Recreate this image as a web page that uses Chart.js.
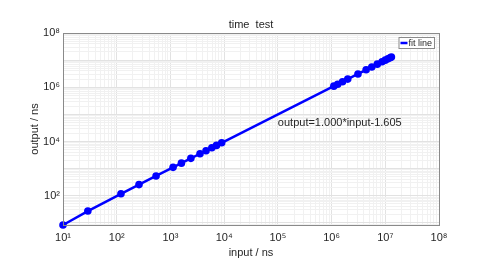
<!DOCTYPE html>
<html>
<head>
<meta charset="utf-8">
<script src="https://cdn.jsdelivr.net/npm/chart.js@4.4.1/dist/chart.umd.min.js"></script>
<style>
  html, body { margin: 0; padding: 0; background: #fff; }
  #wrap { width: 485px; height: 273px; }
</style>
</head>
<body>
<div id="wrap"><canvas id="chart"></canvas></div>
<script>
// measured input sizes (ns)
const inputNs = [10, 29, 120, 260, 540, 1120, 1600, 2400, 3550, 4600, 5900, 7200, 9000,
    1.1e6, 1.3e6, 1.6e6, 2.0e6, 3.1e6, 4.4e6, 5.6e6, 7.1e6, 8.7e6, 1.0e7, 1.12e7, 1.23e7, 1.3e7];
const slope = 1.000;
const offset = -1.605;
const outputNs = inputNs.map(v => slope * v + offset);
const xTickExps = [1, 2, 3, 4, 5, 6, 7, 8];
const yTickExps = [2, 4, 6, 8];
const sup = {"1": "\u00b9", "2": "\u00b2", "3": "\u00b3", "4": "\u2074", "5": "\u2075", "6": "\u2076", "7": "\u2077", "8": "\u2078"};
const FONT = "'Liberation Sans', Arial, sans-serif";

function logTicks(min, max) {
    const ticks = [];
    for (let e = 0; e <= 8; e++) {
        for (let m = 1; m <= 9; m++) {
            const v = m * Math.pow(10, e);
            if (v >= min - 1e-9 && v <= max * 1.0000001) ticks.push({value: v});
        }
    }
    return ticks;
}
function isPow(v) {
    const e = Math.log10(v);
    return Math.abs(e - Math.round(e)) < 1e-9;
}
function gridColor(ctx) {
    return ctx.tick && isPow(ctx.tick.value) ? "#e2e2e2" : "#f1f1f1";
}

const boxPlugin = {
    id: "box",
    afterDraw(chart) {
        const {ctx, chartArea: a, scales} = chart;
        ctx.save();
        ctx.strokeStyle = "#8a8a8a";
        ctx.lineWidth = 1;
        ctx.strokeRect(a.left + 0.5, a.top + 0.5, a.right - a.left, a.bottom - a.top);
        ctx.fillStyle = "#262626";
        ctx.font = "11px " + FONT;
        ctx.textBaseline = "middle";
        // title over the plot area
        ctx.textAlign = "center";
        ctx.fillText("time  test", (a.left + a.right) / 2, a.top - 8);
        // annotation text
        ctx.textAlign = "left";
        ctx.fillText("output=1.000*input-1.605", scales.x.getPixelForValue(1e5), scales.y.getPixelForValue(5e4));
        // legend box, top right inside the plot
        ctx.font = "9px " + FONT;
        const tw = ctx.measureText("fit line").width;
        const lw = tw + 12, lh = 11;
        const lx = a.right - lw - 5, ly = a.top + 4;
        ctx.fillStyle = "#fff";
        ctx.fillRect(lx, ly, lw, lh);
        ctx.strokeStyle = "#8a8a8a";
        ctx.strokeRect(lx + 0.5, ly + 0.5, lw, lh);
        ctx.strokeStyle = "#0000ff";
        ctx.lineWidth = 2.5;
        ctx.beginPath();
        ctx.moveTo(lx + 2, ly + lh / 2 + 0.5);
        ctx.lineTo(lx + 9, ly + lh / 2 + 0.5);
        ctx.stroke();
        ctx.fillStyle = "#262626";
        ctx.fillText("fit line", lx + 10, ly + lh / 2 + 1);
        ctx.restore();
    }
};

new Chart(document.getElementById("chart"), {
    type: "line",
    data: {
        datasets: [{
            label: "fit line",
            data: inputNs.map((x, i) => ({x: x, y: outputNs[i]})),
            borderColor: "#0000ff",
            backgroundColor: "#0000ff",
            borderWidth: 2.5,
            pointRadius: 3.8,
            pointHoverRadius: 3.8,
            pointBorderWidth: 0,
            tension: 0,
            clip: 6,
        }],
    },
    options: {
        responsive: true,
        maintainAspectRatio: false,
        animation: false,
        layout: {padding: {left: 28, right: 46, top: 33, bottom: 13}},
        plugins: {
            legend: {display: false},
            tooltip: {enabled: false},
        },
        scales: {
            x: {
                type: "logarithmic",
                min: 10,
                max: 1e8,
                afterBuildTicks: s => { s.ticks = logTicks(10, 1e8); },
                afterFit: s => { s.height = 35; },
                grid: {color: gridColor, drawTicks: false},
                border: {display: false},
                ticks: {
                    autoSkip: false,
                    maxRotation: 0,
                    padding: 6,
                    color: "#262626",
                    font: {size: 11, family: FONT},
                    callback: v => {
                        const e = Math.round(Math.log10(v));
                        return isPow(v) && xTickExps.includes(e) ? "10" + sup[e] : "";
                    },
                },
                title: {
                    display: true,
                    text: "input / ns",
                    color: "#262626",
                    padding: {top: 0, bottom: 0},
                    font: {size: 11, family: FONT},
                },
            },
            y: {
                type: "logarithmic",
                min: outputNs[0],
                max: 1e8,
                afterBuildTicks: s => { s.ticks = logTicks(outputNs[0], 1e8); },
                afterFit: s => { s.width = 35; },
                grid: {color: gridColor, drawTicks: false},
                border: {display: false},
                ticks: {
                    autoSkip: false,
                    padding: 3,
                    color: "#262626",
                    font: {size: 11, family: FONT},
                    callback: v => {
                        const e = Math.round(Math.log10(v));
                        return isPow(v) && yTickExps.includes(e) ? "10" + sup[e] : "";
                    },
                },
                title: {
                    display: true,
                    text: "output / ns",
                    color: "#262626",
                    padding: {top: 0, bottom: 0},
                    font: {size: 11, family: FONT},
                },
            },
        },
    },
    plugins: [boxPlugin],
});
</script>
</body>
</html>
